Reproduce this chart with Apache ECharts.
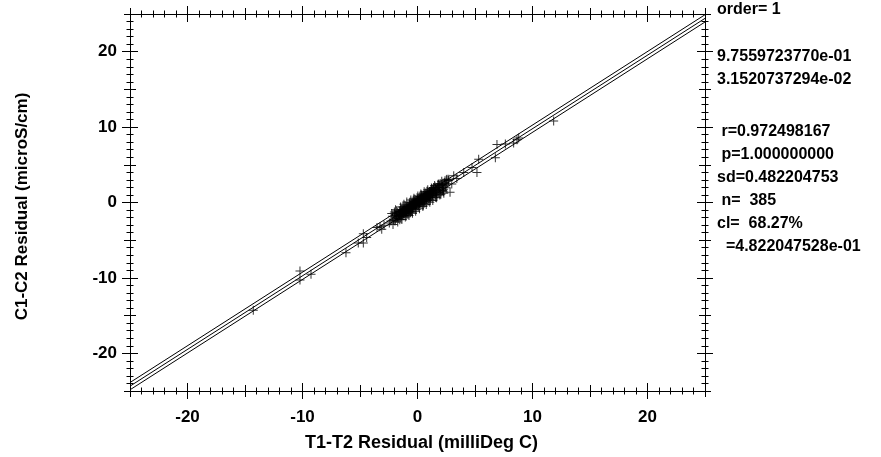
<!DOCTYPE html>
<html>
<head>
<meta charset="utf-8">
<script src="https://cdn.jsdelivr.net/npm/echarts@6/dist/echarts.min.js"></script>
<style>html,body{margin:0;padding:0;background:#fff;}#c{width:881px;height:457px;}</style>
</head>
<body>
<div id="c"></div>
<script>
// ---- data ----
const xTitle = 'T1-T2 Residual (milliDeg C)';
const yTitle = 'C1-C2 Residual (microS/cm)';
const majorTicks = [-20, -10, 0, 10, 20];
const statsText = ['order= 1', '9.7559723770e-01', '3.1520737294e-02', ' r=0.972498167', ' p=1.000000000', 'sd=0.482204753', ' n=  385', 'cl=  68.27%', '  =4.822047528e-01'];
// fit line end points (x = -25 and x = 25)
const fitCenter = [[-25, -24.358], [25, 24.421]];
const fitUpper = [[-25, -23.876], [25, 24.903]];
const fitLower = [[-25, -24.840], [25, 23.939]];
// outlying residual pairs
const pointsTail = [[-14.28,-14.30],[-10.22,-9.07],[-10.22,-10.29],[-9.26,-9.50],[-6.22,-6.68],
  [-4.71,-4.15],[-4.71,-5.38],[-5.15,-5.38],[-4.42,-4.63],[-3.26,-3.20],[-3.11,-3.55],[-3.52,-3.31],[-2.91,-3.02],
  [4.02,3.98],[4.74,4.63],[5.17,3.98],[5.32,5.72],[6.91,7.68],[6.77,5.94],[7.64,7.77],[8.36,7.90],[8.80,8.55],[8.65,8.33],[11.84,10.81],
  [3.15,3.55],[3.42,3.18],[2.57,3.10]];
// core cluster residual pairs
const pointsCore = [[-2.31,-2.47],[-2.18,-1.83],[-2.07,-2.36],[-1.98,-1.52],[-1.93,-2.21],[-1.87,-1.66],[-1.82,-2.04],[-1.76,-1.31],[-1.71,-1.88],[-1.68,-2.12],
  [-1.63,-1.44],[-1.58,-1.79],[-1.57,-1.18],[-1.52,-1.63],[-1.49,-1.97],[-1.46,-1.09],[-1.43,-1.52],[-1.38,-1.81],[-1.36,-0.94],[-1.33,-1.27],
  [-1.29,-1.62],[-1.27,-1.03],[-1.22,-1.41],[-1.19,-1.73],[-1.17,-0.82],[-1.13,-1.19],[-1.09,-1.48],[-1.07,-0.71],[-1.03,-1.02],[-0.99,-1.33],
  [-0.97,-0.63],[-0.94,-1.08],[-0.91,-1.41],[-0.88,-0.52],[-0.84,-0.93],[-0.81,-1.21],[-0.78,-0.58],[-0.76,-0.84],[-0.72,-1.12],[-0.69,-0.33],
  [-0.66,-0.71],[-0.62,-0.98],[-0.59,-0.41],[-0.56,-0.62],[-0.52,-0.91],[-0.49,-0.18],[-0.46,-0.53],[-0.42,-0.79],[-0.39,0.04],[-0.36,-0.41],
  [-0.33,-0.68],[-0.29,0.12],[-0.27,-0.26],[-0.23,-0.61],[-0.21,0.19],[-0.17,-0.12],[-0.13,-0.47],[-0.11,0.31],[-0.06,0.02],[-0.03,-0.38],
  [-0.01,0.42],[0.04,0.09],[0.08,-0.27],[0.11,0.51],[0.14,0.18],[0.19,-0.16],[0.22,0.63],[0.26,0.29],[0.28,-0.07],[0.32,0.71],
  [0.36,0.38],[0.39,0.02],[0.42,0.83],[0.46,0.47],[0.49,0.13],[0.53,0.92],[0.57,0.58],[0.61,0.21],[0.63,1.02],[0.67,0.68],
  [0.71,0.33],[0.74,1.13],[0.77,0.79],[0.81,0.42],[0.84,1.21],[0.87,0.88],[0.92,0.51],[0.94,1.34],[0.97,0.99],[1.02,0.62],
  [1.04,1.42],[1.08,1.09],[1.12,0.71],[1.14,1.53],[1.18,1.18],[1.23,0.84],[1.26,1.62],[1.31,1.29],[1.34,0.93],[1.41,1.72],
  [1.44,1.38],[1.52,1.04],[1.56,1.83],[1.61,1.49],[1.67,1.17],[1.72,1.94],[1.79,1.61],[1.86,1.32],[1.91,2.18],[1.98,1.79],
  [2.06,1.51],[2.12,2.39],[2.19,2.03],[2.27,1.68],[2.34,2.62],[2.43,2.21],
  [-0.88,-0.79],[-0.64,-0.55],[-0.47,-0.37],[-0.31,-0.24],[-0.18,-0.21],[-0.08,-0.09],[0.02,0.06],[0.07,0.27],[0.16,0.04],[0.24,0.41],
  [0.33,0.19],[0.44,0.36],[0.51,0.62],[0.58,0.39],[0.69,0.81],[0.79,0.61],[0.91,0.97],[1.01,0.88],[1.16,1.37],[1.28,1.11],
  [-1.12,-0.97],[-1.24,-1.18],[-1.41,-1.29],[-1.62,-1.57],[-1.84,-1.73],[-0.53,-0.74],[-0.38,-0.22],[-0.14,0.08],[0.13,-0.04],[0.37,0.57],
  [0.62,0.47],[0.86,0.69],[1.09,1.28],[1.37,1.56],[1.63,1.71],[1.88,1.97],[2.22,2.31],[2.56,2.47],[2.68,2.92],[2.72,3.10],
  [2.98,2.45],[2.83,1.37],[2.17,1.59],[1.77,2.31],[1.53,2.07],[2.39,2.88],[2.48,1.95],[-2.24,-1.46],[-2.45,-2.71],[-1.96,-2.47],
  [-2.13,-2.93],[-1.91,-0.97],[-1.72,-2.58],[-1.47,-0.61],[-1.36,-2.27],[-1.18,-0.24],[-1.06,-1.93],[-0.93,0.07],[-0.74,-1.71],[-0.58,0.34],
  [-0.44,-1.42],[-0.31,0.58],[-0.16,-1.17],[0.03,0.87],[0.17,-0.83],[0.29,1.12],[0.47,-0.52],[0.58,1.43],[0.76,-0.27],[0.89,1.68],
  [1.07,0.04],[1.21,1.93],[1.33,0.27],[1.49,2.24],[1.66,0.63],[1.81,2.47],[1.94,0.98],[2.11,2.81],[2.29,1.23],[2.51,3.02],
  [-1.81,-1.12],[-1.54,-2.28],[-1.26,-0.57],[-0.98,-1.78],[-0.71,-0.02],[-0.49,-1.23],[-0.22,0.44],[0.06,-0.61],[0.34,0.98],[0.56,-0.12],
  [0.82,1.49],[1.11,0.36],[1.39,1.98],[1.69,0.87],[1.97,2.51],[2.24,1.42],[-0.62,-1.37],[-0.37,0.29],[-0.12,-0.93],[0.21,0.81],
  [0.48,-0.36],[0.72,1.27],[0.99,0.19],[1.27,1.81],[1.57,0.71],[-1.09,-0.42],[-0.83,-1.59],[1.86,2.34],[2.03,1.09],[-2.01,-1.26]];

// ---- chart ----
const FONT = '"Liberation Sans", Arial, Helvetica, sans-serif';
const BLACK = '#000';
const chart = echarts.init(document.getElementById('c'), null, {renderer: 'canvas'});

function axis(pos, kind, inside, withLabel) {
  const a = {
    type: 'value', position: pos, min: -25, max: 25, offset: 0,
    splitLine: {show: false},
    axisLine: {show: withLabel || kind === 'frame', onZero: false, lineStyle: {color: BLACK, width: 1}},
    axisLabel: {show: false},
    axisTick: {show: kind !== 'frame', inside: inside, lineStyle: {color: BLACK, width: 1}},
    minorTick: {show: false},
    silent: true
  };
  if (kind === 'major') {
    a.interval = 5;
    a.axisTick.customValues = majorTicks;
    a.axisTick.length = 8;
  } else if (kind === 'minor') {
    a.interval = 5;
    a.axisTick.length = 6;
    a.minorTick = {show: true, splitNumber: 5, length: 3.5, lineStyle: {color: BLACK, width: 1}};
  }
  if (withLabel) {
    a.axisLine.show = true;
    a.axisLabel = {show: true, customValues: majorTicks, color: BLACK, fontFamily: FONT, fontWeight: 'bold', fontSize: 17,
      margin: pos === 'bottom' ? 18 : 13};
  }
  return a;
}

const titleStyle = {color: BLACK, fontFamily: FONT, fontWeight: 'bold', fontSize: 17};
const xAxes = [
  Object.assign(axis('bottom', 'major', false, true), {name: xTitle, nameLocation: 'middle', nameGap: 43,
    nameTextStyle: Object.assign({}, titleStyle, {fontSize: 18, padding: [0, 0, 0, 8]})}),
  axis('bottom', 'major', true, false),
  axis('bottom', 'minor', false, false),
  axis('bottom', 'minor', true, false),
  axis('top', 'frame', false, false),
  axis('top', 'major', false, false),
  axis('top', 'major', true, false),
  axis('top', 'minor', false, false),
  axis('top', 'minor', true, false)
];
const yAxes = [
  Object.assign(axis('left', 'major', false, true), {name: yTitle, nameLocation: 'middle', nameGap: 99, nameRotate: 90,
    nameTextStyle: Object.assign({}, titleStyle, {padding: [0, 8, 0, 0]})}),
  axis('left', 'major', true, false),
  axis('left', 'minor', false, false),
  axis('left', 'minor', true, false),
  axis('right', 'frame', false, false),
  axis('right', 'major', false, false),
  axis('right', 'major', true, false),
  axis('right', 'minor', false, false),
  axis('right', 'minor', true, false)
];

const statsY = [10, 57, 80, 132, 155, 178, 201, 224, 247];
const graphics = statsText.map((t, i) => ({
  type: 'text', x: 717, y: statsY[i], silent: true,
  style: {text: t, fill: BLACK, font: 'bold 16px ' + FONT, verticalAlign: 'middle'}
}));

const plus = 'path://M0,4H9V5H0ZM4,0H5V9H4Z';
const lineSeries = (d) => ({type: 'line', data: d, symbol: 'none', clip: true, silent: true,
  lineStyle: {color: BLACK, width: 1}, xAxisIndex: 0, yAxisIndex: 0});

chart.setOption({
  animation: false,
  backgroundColor: '#fff',
  grid: {left: 130, right: 176, top: 14, bottom: 60, containLabel: false},
  xAxis: xAxes,
  yAxis: yAxes,
  graphic: graphics,
  series: [
    lineSeries(fitUpper), lineSeries(fitCenter), lineSeries(fitLower),
    {type: 'scatter', data: pointsCore.concat(pointsTail), symbol: plus, symbolSize: 9, silent: true,
      itemStyle: {color: BLACK}, xAxisIndex: 0, yAxisIndex: 0}
  ]
});
</script>
</body>
</html>
